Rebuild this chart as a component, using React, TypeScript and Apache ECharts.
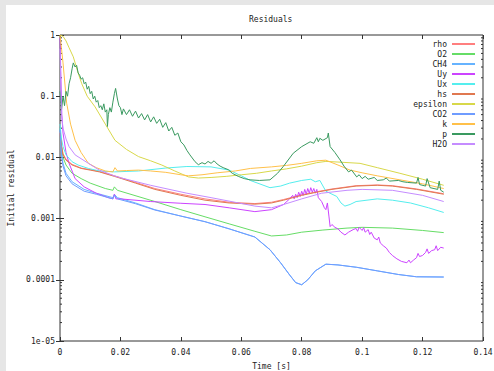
import React, { useEffect, useRef } from "react";
import * as echarts from "echarts";

type Pt = [number, number];

const seriesNames = ["rho", "O2", "CH4", "Uy", "Ux", "hs", "epsilon", "CO2", "k", "p", "H2O"];
const seriesColors = ["#ff7f7f", "#66dd66", "#66b3ff", "#cc44ff", "#55eeee", "#e07850", "#d8d84a", "#6f9cff", "#ffc04a", "#3a9a60", "#c58cff"];

const xTickLabels = ["0", "0.02", "0.04", "0.06", "0.08", "0.1", "0.12", "0.14"];
const yTickLabels = ["1e-05", "0.0001", "0.001", "0.01", "0.1", "1"];
const minorMultiples = [2, 3, 4, 5, 6, 7, 8, 9];
const decades = [1e-5, 1e-4, 1e-3, 1e-2, 1e-1];

const rhoData: Pt[] = [[0, 0.026], [0.0005, 0.016], [0.001, 0.0115], [0.002, 0.0093], [0.004, 0.0077], [0.007, 0.0067], [0.01, 0.0063], [0.013, 0.0059], [0.018, 0.005], [0.0204, 0.0046], [0.025, 0.0039], [0.0314, 0.0031], [0.04, 0.0025], [0.048, 0.0021], [0.056, 0.00185], [0.0645, 0.00176], [0.07, 0.00185], [0.074, 0.00205], [0.08, 0.00245], [0.085, 0.00275], [0.09, 0.00305], [0.098, 0.00345], [0.105, 0.00355], [0.11, 0.00345], [0.118, 0.00305], [0.127, 0.00255]];
const hsData: Pt[] = [[0, 0.025], [0.0005, 0.015], [0.001, 0.011], [0.002, 0.009], [0.004, 0.0075], [0.007, 0.0066], [0.01, 0.0062], [0.013, 0.0058], [0.018, 0.0049], [0.0204, 0.0045], [0.025, 0.0038], [0.0314, 0.003], [0.04, 0.0024], [0.048, 0.002], [0.056, 0.0018], [0.0645, 0.00172], [0.07, 0.0018], [0.074, 0.002], [0.08, 0.0024], [0.085, 0.0027], [0.09, 0.003], [0.098, 0.0034], [0.105, 0.0035], [0.11, 0.0034], [0.118, 0.003], [0.127, 0.0025]];
const o2Data: Pt[] = [[0, 0.03], [0.0005, 0.015], [0.001, 0.01], [0.002, 0.0075], [0.004, 0.0055], [0.007, 0.0045], [0.01, 0.0038], [0.015, 0.0031], [0.0175, 0.0029], [0.018, 0.0033], [0.019, 0.0029], [0.0314, 0.0019], [0.04, 0.0014], [0.048, 0.00107], [0.056, 0.00082], [0.0645, 0.00062], [0.07, 0.00052], [0.075, 0.00054], [0.08, 0.0006], [0.087, 0.00065], [0.095, 0.0007], [0.1, 0.00072], [0.11, 0.0007], [0.12, 0.00064], [0.127, 0.00059]];
const ch4Data: Pt[] = [[0, 0.03], [0.0005, 0.012], [0.001, 0.008], [0.002, 0.0055], [0.004, 0.004], [0.008, 0.003], [0.012, 0.0026], [0.0175, 0.0022], [0.018, 0.0025], [0.019, 0.0022], [0.025, 0.0018], [0.0314, 0.0014], [0.04, 0.0011], [0.048, 0.00089], [0.056, 0.00068], [0.0645, 0.0005], [0.0695, 0.00031], [0.073, 0.00019], [0.076, 0.00012], [0.078, 0.00009], [0.08, 0.000083], [0.082, 0.0001], [0.0845, 0.00014], [0.088, 0.00018], [0.092, 0.000175], [0.0982, 0.00016], [0.105, 0.00014], [0.112, 0.000122], [0.118, 0.000112], [0.127, 0.000111]];
const co2Data: Pt[] = [[0, 0.028], [0.0005, 0.011], [0.001, 0.0072], [0.002, 0.005], [0.004, 0.0037], [0.008, 0.0028], [0.012, 0.0025], [0.0175, 0.0021], [0.018, 0.0024], [0.019, 0.0021], [0.025, 0.00175], [0.0314, 0.00138], [0.04, 0.0011], [0.048, 0.00089], [0.056, 0.00068], [0.0645, 0.0005], [0.0695, 0.00031], [0.073, 0.00019], [0.076, 0.00012], [0.078, 0.00009], [0.08, 0.000083], [0.082, 0.0001], [0.0845, 0.00014], [0.088, 0.00018], [0.092, 0.000175], [0.0982, 0.00016], [0.105, 0.00014], [0.112, 0.000122], [0.118, 0.000112], [0.127, 0.000111]];
const uyData: Pt[] = [[0, 0.9], [0.0003, 0.2], [0.0006, 0.05], [0.001, 0.025], [0.002, 0.012], [0.003, 0.008], [0.005, 0.0045], [0.008, 0.0033], [0.012, 0.0026], [0.016, 0.0022], [0.0175, 0.0021], [0.018, 0.0025], [0.0185, 0.0021], [0.02, 0.0021], [0.03, 0.0019], [0.04, 0.00178], [0.048, 0.0017], [0.056, 0.0015], [0.0645, 0.0013], [0.07, 0.0014], [0.074, 0.0017], [0.076, 0.0021], [0.077, 0.0024], [0.0775, 0.0021], [0.078, 0.0025], [0.0785, 0.0022], [0.079, 0.0027], [0.0795, 0.0023], [0.08, 0.0028], [0.0805, 0.0024], [0.081, 0.003], [0.0815, 0.0025], [0.082, 0.0031], [0.0825, 0.0026], [0.083, 0.0032], [0.0835, 0.0027], [0.084, 0.0031], [0.0845, 0.0026], [0.085, 0.003], [0.0855, 0.0022], [0.0866, 0.0019], [0.0875, 0.0015], [0.088, 0.0014], [0.0885, 0.0018], [0.089, 0.0011], [0.0894, 0.00074], [0.09, 0.0008], [0.091, 0.00072], [0.092, 0.00068], [0.093, 0.0006], [0.0943, 0.00054], [0.0955, 0.0006], [0.097, 0.00066], [0.098, 0.00069], [0.0985, 0.00062], [0.099, 0.00072], [0.1, 0.00064], [0.1005, 0.00071], [0.101, 0.0006], [0.102, 0.00066], [0.1025, 0.00055], [0.103, 0.0006], [0.104, 0.00048], [0.105, 0.00045], [0.1055, 0.0005], [0.106, 0.0004], [0.107, 0.00036], [0.108, 0.00033], [0.109, 0.00028], [0.11, 0.00025], [0.1115, 0.00022], [0.113, 0.0002], [0.1148, 0.00019], [0.1155, 0.00021], [0.116, 0.00019], [0.117, 0.00021], [0.118, 0.00023], [0.1185, 0.00027], [0.119, 0.00024], [0.12, 0.00025], [0.121, 0.00028], [0.1215, 0.00032], [0.122, 0.00027], [0.123, 0.0003], [0.124, 0.00031], [0.1245, 0.00036], [0.125, 0.0003], [0.126, 0.00034], [0.127, 0.00033]];
const uxData: Pt[] = [[0, 0.035], [0.0005, 0.02], [0.001, 0.015], [0.002, 0.011], [0.004, 0.0085], [0.006, 0.0075], [0.0094, 0.0066], [0.013, 0.006], [0.018, 0.0058], [0.026, 0.006], [0.035, 0.0067], [0.042, 0.0071], [0.05, 0.007], [0.056, 0.0062], [0.06, 0.005], [0.063, 0.0042], [0.0695, 0.0032], [0.073, 0.0034], [0.076, 0.0038], [0.08, 0.0042], [0.083, 0.0044], [0.0845, 0.004], [0.086, 0.0042], [0.088, 0.0028], [0.0916, 0.0023], [0.093, 0.0018], [0.0943, 0.0016], [0.096, 0.0017], [0.098, 0.0019], [0.105, 0.0021], [0.11, 0.002], [0.116, 0.0018], [0.122, 0.0015], [0.127, 0.00126]];
const epsilonData: Pt[] = [[0, 1], [0.001, 0.95], [0.002, 0.8], [0.003, 0.62], [0.0044, 0.44], [0.006, 0.24], [0.0072, 0.16], [0.009, 0.1], [0.0116, 0.067], [0.015, 0.035], [0.0182, 0.019], [0.022, 0.0135], [0.026, 0.0103], [0.03, 0.0088], [0.0337, 0.0075], [0.038, 0.006], [0.0425, 0.0048], [0.0458, 0.0046], [0.05, 0.0047], [0.055, 0.0049], [0.06, 0.0052], [0.065, 0.0055], [0.07, 0.006], [0.075, 0.0065], [0.08, 0.0072], [0.085, 0.0082], [0.088, 0.0086], [0.092, 0.0084], [0.0993, 0.008], [0.105, 0.0068], [0.1125, 0.0055], [0.12, 0.0044], [0.127, 0.0035]];
const kData: Pt[] = [[0, 1], [0.0005, 0.6], [0.001, 0.35], [0.0022, 0.077], [0.0035, 0.035], [0.005, 0.019], [0.007, 0.012], [0.0094, 0.008], [0.012, 0.0068], [0.015, 0.006], [0.0175, 0.0058], [0.0182, 0.0068], [0.019, 0.006], [0.022, 0.0061], [0.026, 0.0062], [0.03, 0.006], [0.035, 0.0057], [0.04, 0.0052], [0.0425, 0.005], [0.047, 0.0052], [0.052, 0.0056], [0.058, 0.006], [0.063, 0.0066], [0.07, 0.007], [0.075, 0.0074], [0.08, 0.008], [0.085, 0.0088], [0.088, 0.009], [0.092, 0.0075], [0.096, 0.0062], [0.1, 0.0056], [0.105, 0.005], [0.1125, 0.0043], [0.12, 0.0037], [0.127, 0.0031]];
const pData: Pt[] = [[0, 0.12], [0.0005, 0.06], [0.001, 0.1], [0.0015, 0.07], [0.002, 0.12], [0.0025, 0.1], [0.003, 0.16], [0.0035, 0.2], [0.004, 0.28], [0.0044, 0.35], [0.005, 0.3], [0.0055, 0.32], [0.006, 0.24], [0.0065, 0.22], [0.007, 0.19], [0.0075, 0.2], [0.008, 0.16], [0.0085, 0.17], [0.009, 0.13], [0.0095, 0.145], [0.01, 0.11], [0.0105, 0.12], [0.011, 0.09], [0.0115, 0.1], [0.012, 0.08], [0.0125, 0.085], [0.013, 0.065], [0.0135, 0.07], [0.014, 0.06], [0.0145, 0.075], [0.015, 0.055], [0.0155, 0.06], [0.0157, 0.032], [0.016, 0.05], [0.0165, 0.065], [0.017, 0.055], [0.0175, 0.08], [0.018, 0.11], [0.0184, 0.134], [0.019, 0.09], [0.0195, 0.07], [0.02, 0.065], [0.0205, 0.05], [0.021, 0.062], [0.022, 0.05], [0.023, 0.06], [0.024, 0.047], [0.025, 0.057], [0.026, 0.044], [0.027, 0.052], [0.028, 0.041], [0.029, 0.05], [0.03, 0.038], [0.031, 0.046], [0.032, 0.036], [0.033, 0.042], [0.034, 0.031], [0.035, 0.037], [0.036, 0.027], [0.037, 0.031], [0.038, 0.023], [0.039, 0.025], [0.04, 0.018], [0.041, 0.016], [0.042, 0.013], [0.043, 0.011], [0.0447, 0.0085], [0.0458, 0.0076], [0.047, 0.0082], [0.048, 0.0078], [0.049, 0.0086], [0.05, 0.008], [0.051, 0.0088], [0.052, 0.0078], [0.053, 0.0072], [0.054, 0.0068], [0.0557, 0.0063], [0.057, 0.0055], [0.059, 0.0049], [0.061, 0.0045], [0.0629, 0.0043], [0.066, 0.0042], [0.0695, 0.0043], [0.072, 0.0055], [0.0739, 0.0071], [0.0772, 0.0117], [0.08, 0.015], [0.0828, 0.018], [0.084, 0.017], [0.085, 0.021], [0.0855, 0.018], [0.086, 0.0205], [0.087, 0.019], [0.0885, 0.021], [0.0888, 0.025], [0.0894, 0.015], [0.091, 0.012], [0.0927, 0.0091], [0.094, 0.0072], [0.0955, 0.0058], [0.0965, 0.0062], [0.0982, 0.0048], [0.099, 0.0052], [0.1, 0.0045], [0.101, 0.0049], [0.102, 0.0044], [0.104, 0.0047], [0.105, 0.0042], [0.107, 0.0043], [0.108, 0.0046], [0.109, 0.0041], [0.112, 0.0042], [0.1135, 0.004], [0.115, 0.0039], [0.118, 0.0038], [0.1185, 0.0047], [0.119, 0.0036], [0.121, 0.0034], [0.1215, 0.0045], [0.1225, 0.0032], [0.125, 0.003], [0.1255, 0.0041], [0.126, 0.0029], [0.127, 0.0027]];
const h2oData: Pt[] = [[0, 0.6], [0.0005, 0.05], [0.001, 0.03], [0.002, 0.02], [0.003, 0.015], [0.005, 0.011], [0.0094, 0.008], [0.013, 0.0062], [0.018, 0.005], [0.0204, 0.0046], [0.03, 0.0035], [0.042, 0.0026], [0.05, 0.0022], [0.0645, 0.0016], [0.07, 0.0015], [0.074, 0.0017], [0.08, 0.0021], [0.0866, 0.0026], [0.095, 0.0029], [0.1, 0.003], [0.11, 0.0029], [0.12, 0.0024], [0.127, 0.0019]];

const allData: Pt[][] = [rhoData, o2Data, ch4Data, uyData, uxData, hsData, epsilonData, co2Data, kData, pData, h2oData];

const FONT = "DejaVu Sans Mono";
const TEXT = "#222";
const AXIS = "#333";

export default function App() {
  const ref = useRef<HTMLDivElement>(null);
  useEffect(() => {
    document.body.style.margin = "0";
    if (!ref.current) return;
    const chart = echarts.init(ref.current, undefined, { renderer: "svg" });
    const minorTicks: number[][] = [];
    decades.forEach((d) => minorMultiples.forEach((m) => minorTicks.push([0, d * m])));

    const lineSeries = seriesNames.map((name, i) => ({
      name,
      type: "line",
      data: allData[i],
      showSymbol: false,
      symbol: "none",
      lineStyle: { width: 1, color: seriesColors[i] },
      itemStyle: { color: seriesColors[i] },
      xAxisIndex: 0,
      yAxisIndex: 0,
      z: 2 + i,
    }));

    const axisBase = {
      axisLine: { show: false },
      splitLine: { show: false },
      axisTick: { show: true, inside: true, length: 4, lineStyle: { color: AXIS, width: 1 } },
    };

    chart.setOption({
      animation: false,
      backgroundColor: "#ffffff",
      textStyle: { fontFamily: FONT },
      title: {
        text: "Residuals",
        left: 243,
        top: 10,
        padding: 0,
        textStyle: { fontFamily: FONT, fontSize: 8, fontWeight: "normal", color: TEXT },
      },
      legend: {
        data: seriesNames,
        orient: "vertical",
        right: 19,
        top: 34,
        align: "right",
        icon: "rect",
        itemWidth: 23,
        itemHeight: 2,
        itemGap: 0,
        padding: 0,
        selectedMode: false,
        textStyle: { fontFamily: FONT, fontSize: 8, color: TEXT, lineHeight: 10, padding: [0, 0, 0, 0] },
      },
      grid: {
        left: 54,
        right: 11,
        top: 30,
        bottom: 30,
        containLabel: false,
        outerBoundsMode: "none",
        show: true,
        borderColor: AXIS,
        borderWidth: 1,
        backgroundColor: "transparent",
      },
      xAxis: [
        {
          type: "value",
          min: 0,
          max: 0.14,
          interval: 0.02,
          position: "bottom",
          name: "Time [s]",
          nameLocation: "middle",
          nameGap: 21,
          nameTextStyle: { fontFamily: FONT, fontSize: 8, color: TEXT },
          axisLabel: {
            fontFamily: FONT,
            fontSize: 8,
            color: TEXT,
            margin: 7,
            formatter: (v: number) => xTickLabels[Math.round(v / 0.02)] ?? "",
          },
          ...axisBase,
        },
        {
          type: "value",
          min: 0,
          max: 0.14,
          interval: 0.02,
          position: "top",
          axisLabel: { show: false },
          ...axisBase,
        },
      ],
      yAxis: [
        {
          type: "log",
          logBase: 10,
          min: 1e-5,
          max: 1,
          name: "Initial residual",
          nameLocation: "middle",
          nameGap: 37,
          nameRotate: 90,
          nameTextStyle: { fontFamily: FONT, fontSize: 8, color: TEXT },
          axisLabel: {
            fontFamily: FONT,
            fontSize: 8,
            color: TEXT,
            margin: 5,
            formatter: (v: number) => yTickLabels[Math.round(Math.log10(v)) + 5] ?? "",
          },
          ...axisBase,
        },
        {
          type: "log",
          logBase: 10,
          min: 1e-5,
          max: 1,
          position: "right",
          axisLabel: { show: false },
          ...axisBase,
        },
      ],
      series: [
        ...lineSeries,
        {
          type: "custom",
          name: "minorTicks",
          silent: true,
          xAxisIndex: 0,
          yAxisIndex: 0,
          z: 1,
          data: minorTicks,
          renderItem: (_params: any, api: any) => {
            const v = api.value(1);
            const pl = api.coord([0, v]);
            const pr = api.coord([0.14, v]);
            return {
              type: "group",
              children: [
                { type: "line", shape: { x1: pl[0], y1: pl[1], x2: pl[0] + 2, y2: pl[1] }, style: { stroke: AXIS, lineWidth: 1 } },
                { type: "line", shape: { x1: pr[0] - 2, y1: pr[1], x2: pr[0], y2: pr[1] }, style: { stroke: AXIS, lineWidth: 1 } },
              ],
            };
          },
        },
      ],
    });
    return () => chart.dispose();
  }, []);

  return (
    <div style={{ width: 494, height: 371, background: "#e6e6e6", position: "relative", overflow: "hidden" }}>
      <div ref={ref} style={{ position: "absolute", left: 6, top: 5, width: 488, height: 366 }} />
    </div>
  );
}
